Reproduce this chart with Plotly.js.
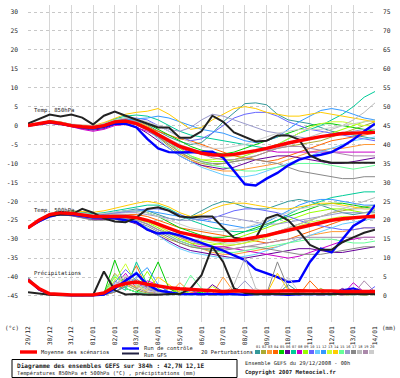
<!DOCTYPE html>
<html><head><meta charset="utf-8">
<script src="https://cdn.plot.ly/plotly-3.0.1.min.js"></script>
<style>html,body{margin:0;padding:0;background:#fff}#c{width:400px;height:378px}</style>
</head><body><div id="c"></div>
<script>
const hours=[0,12,24,36,48,60,72,84,96,108,120,132,144,156,168,180,192,204,216,228,240,252,264,276,288,300,312,324,336,348,360,372,384];
const dayTicks=[0,24,48,72,96,120,144,168,192,216,240,264,288,312,336,360,384];
const dayLabels=['29/12','30/12','31/12','01/01','02/01','03/01','04/01','05/01','06/01','07/01','08/01','09/01','10/01','11/01','12/01','13/01','14/01'];
const tempTicks=[-45,-40,-35,-30,-25,-20,-15,-10,-5,0,5,10,15,20,25,30];
const tempLabels=['-45','-40','-35','-30','-25','-20','-15','-10','-5','0','5','10','15','20','25','30'];
const precipTicks=[0,5,10,15,20,25,30,35,40,45,50,55,60,65,70,75];
const memberNames=['01','02','03','04','05','06','07','08','09','10','11','12','13','14','15','16','17','18','19','20'];
const memberColors=['#339999','#aaaa33','#ff9933','#ff6600','#00cc00','#660099','#00cc99','#cc00cc','#99ff00','#6666ff','#66ccff','#3399ff','#ccff33','#ffcc00','#66ff99','#9999cc','#888888','#bbbbbb','#aa88aa','#cccccc'];

// Temperature 850 hPa (°C)
const t850Mean=[0,0.5,1,0.6,0,-0.3,-0.5,0,1,1.2,0.5,-0.8,-2.5,-4,-5.5,-6.5,-7.3,-7.7,-7.8,-7.6,-7.2,-6.6,-6,-5.2,-4.6,-4,-3.4,-2.9,-2.5,-2.1,-2,-1.8,-1.8];
const t850Control=[0,0.3,0.8,0.5,0,-0.5,-0.8,-0.3,0.5,0.5,-0.5,-3.5,-6,-7,-7.1,-7,-6.8,-6.9,-8.5,-12,-15.5,-15.8,-14,-12.5,-10.5,-9,-8.2,-7.7,-7,-5.5,-3.7,-1.5,0.5];
const t850Gfs=[0.5,1.8,2.9,2.4,2.9,2.1,0.3,2.6,3.7,2.6,1.5,0.5,-0.5,-0.5,-3.2,-3.2,-1.5,2.6,1,-1.8,-2.9,-4.2,-4,-2.6,-2.6,-3.7,-7.9,-9.2,-9.8,-9.8,-9.8,-9.8,-9.8];
const t850Members=[
[0,0.6,1.2,0.8,0.2,-0.2,-0.4,0.3,1.3,1.6,1.2,0.2,-1.5,-3,-4.2,-5,-4.5,-2,1,3.5,5.8,6,5.5,3,1.5,1,0.5,-0.5,-1.5,-2,-2.5,-3,-3.5],
[0,0.3,0.8,0.5,-0.2,-0.5,-0.8,-0.3,0.8,1,0.3,-1,-3,-5.5,-7.5,-9,-10,-10.5,-10,-9.5,-9,-8,-7,-6,-5.5,-5,-4.5,-4,-3,-2,-1,0,1],
[0,0.5,1.3,1,0.3,0,-0.3,0.2,1,1.5,1,0,-2,-4.5,-7,-9,-10.5,-11.5,-12,-12,-11.5,-11,-10.5,-10,-9,-8,-7,-6.5,-6,-6,-5.5,-5,-5],
[0,0.4,1,0.7,0,-0.4,-0.6,0,1.2,1.4,0.6,-0.5,-1.5,-2.5,-3.5,-4,-5,-6,-7,-8,-8.5,-9,-9.5,-9,-8,-7,-6,-5,-4,-3.5,-3,-2.5,-2],
[0,0.7,1.3,0.9,0.3,0,-0.2,0.4,1.5,2,1.5,0.5,-1,-2.5,-4,-5.5,-6.5,-7,-7.5,-7,-6,-5,-4,-3,-2,-1,0,0.5,0.5,0,-0.5,-1,-1.5],
[0,0.2,0.6,0.3,-0.3,-0.8,-1.2,-0.8,0.3,0.5,-0.3,-2,-4,-6,-8,-9.5,-10.5,-11,-11.5,-11,-10,-9,-8.5,-8,-8,-8.5,-9,-9.5,-10,-10,-9.5,-9,-8.5],
[0,0.6,1.1,0.7,0.1,-0.1,-0.2,0.5,1.8,2.5,2.8,2.5,1.5,0,-1.5,-2.5,-3,-3.5,-4,-4.5,-5,-5.5,-6,-5,-3.5,-2,-1,0,1.5,3,5,7.5,9],
[0,0.4,0.9,0.4,-0.4,-1,-1.5,-1,0,0.3,-0.5,-1.5,-3,-4.5,-6,-7,-7.5,-8,-8,-7.5,-7,-6.5,-6.5,-7,-7,-7,-7,-7,-7,-7,-7,-7,-7],
[0,0.5,1,0.6,0,-0.3,-0.6,-0.2,0.8,1.2,0.8,-0.3,-2,-4,-6,-8,-9,-9.5,-9.5,-9,-8,-7,-6,-5,-4.5,-4,-3.5,-3,-2,-1,0,1,1.5],
[0,0.5,1,0.7,0.1,-0.2,-0.5,0.2,1.2,1.8,2,1.5,0,-1.5,-3,-4,-3.5,-2,0,2,3,3.5,3.5,2.5,1,0,-1,-1.5,-2,-2.5,-3,-3.5,-4],
[0,0.3,0.9,0.5,-0.1,-0.5,-0.7,-0.1,1,1.3,0.5,-1,-3.5,-6,-8,-9.5,-11,-12,-13,-13.5,-13.5,-13,-12,-11,-10,-9,-8,-7,-6,-5,-4,-3.5,-3],
[0,0.5,1.1,0.7,0.2,-0.2,-0.4,0.2,1.1,1.5,1.8,2,2.5,2,1,0,-1,-1.5,-2,-3,-4,-4.5,-4,-3,-1,1,2.5,4,4.5,4,3,2,1.5],
[0,0.4,1,0.6,0,-0.4,-0.7,-0.2,0.8,1.2,0.6,-0.5,-2.5,-5,-7,-8.5,-9,-9,-8.5,-8,-7.5,-7,-6,-5,-3.5,-2,-0.5,0.5,1,1,0.5,0,0],
[0,0.6,1.2,0.8,0.3,0.1,0,0.8,2,3,3.5,3.8,4.5,3,1,-1,-0.5,1.5,3,4.5,5,4.5,3.5,3,2.5,2.5,3,3.5,3,2.5,2,1.5,1],
[0,0.4,0.9,0.5,-0.1,-0.4,-0.6,0,1,1.3,0.8,-0.5,-2.5,-4.5,-6.5,-8,-9.5,-10.5,-11,-11.5,-12,-12,-11.5,-11,-10.5,-10,-10,-10,-10.5,-11,-11.5,-11,-10.5],
[0,0.5,1,0.7,0.1,-0.2,-0.5,0.1,1.1,1.5,1.2,0.5,0,-1,-1.5,-0.5,1.5,3,2.5,1.5,0.5,-0.5,-1.5,-2,-2.5,-3,-3.5,-3,-2.5,-2,-1.5,-1,-1],
[0,0.3,0.7,0.3,-0.3,-0.7,-1,-0.5,0.5,0.8,0.2,-1.2,-3,-5,-7,-8.5,-9.5,-10,-10,-9.5,-9,-9,-9.5,-10,-11,-12,-12.5,-13,-13.5,-14,-14,-13.5,-13.5],
[0,0.5,1,0.6,0,-0.3,-0.5,0.1,1,1.3,0.6,-0.6,-2,-3.5,-5,-6,-7,-7.5,-8,-8,-7.5,-7,-6.5,-6,-5,-4,-3,-2,-1,0,1.5,3.5,6],
[0,0.4,0.8,0.4,-0.2,-0.6,-0.9,-0.4,0.6,0.9,0.2,-1,-2.5,-4,-5.5,-6.5,-7.5,-8.5,-9,-9,-8.5,-8,-7,-6,-5.5,-5.5,-6,-6.5,-7,-7.5,-8,-8,-8],
[0,0.6,1.2,0.9,0.4,0.2,0,0.5,1.5,2,1.8,1,0,-1.5,-3,-4.5,-5.5,-6,-6,-5.5,-5,-4,-3,-2,-1.5,-1,-1,-1,-0.5,0,0.5,1,1.5]];

// Temperature 500 hPa (°C)
const t500Mean=[-27,-25,-23.5,-23,-23.2,-23.6,-24,-24,-24,-24,-24.3,-25,-26,-27,-28.2,-28.8,-29.5,-30,-30.3,-30.3,-30,-29.6,-29,-28.3,-27.6,-27,-26.3,-25.6,-25,-24.6,-24.3,-24.1,-24];
const t500Control=[-27,-25.3,-24,-23.3,-23.5,-24,-24.3,-24.3,-24.5,-25,-25.5,-27.5,-28.5,-28.3,-29,-30,-31,-32,-33,-34.3,-35.5,-38,-39,-40,-41.3,-41,-36,-32.5,-33.5,-30,-26.5,-24.8,-21];
const t500Gfs=[-27,-25,-23.8,-23.5,-23.5,-22,-23,-24.5,-25.3,-25.5,-24.3,-22,-21.6,-22.5,-24,-24.3,-24,-24,-27,-29.6,-30.1,-29.7,-24.5,-23.5,-25,-28,-31.5,-32.8,-32.8,-30.8,-29.5,-28.3,-27.5];
const t500Members=[
[-27,-25.2,-23.5,-22.8,-22.5,-22.8,-23.3,-23.5,-23,-22.5,-22,-22.5,-23.5,-24.5,-25,-24,-22.5,-21,-20,-20.5,-21.5,-22,-22,-21,-20,-19.5,-20,-21,-22,-23,-23.5,-23,-22.5],
[-27,-25,-23.8,-23.3,-23.5,-24,-24.5,-24.3,-24,-24.5,-25.5,-27,-28.5,-30,-31,-32,-32.5,-32.5,-32,-31.5,-31,-30,-29,-28,-27,-26,-25,-24,-23,-22.5,-22,-21.5,-21],
[-27,-24.8,-23.2,-22.8,-23,-23.5,-24,-24,-23.5,-23.5,-24,-25,-26.5,-28,-29.5,-31,-32.5,-33.5,-34,-34,-33.5,-33,-32.5,-32,-31,-30,-29,-28.5,-28,-28,-27.5,-27,-27],
[-27,-25.3,-23.7,-23.2,-23.3,-23.8,-24.2,-24,-23.7,-23.5,-23.5,-24,-25,-26,-27,-27.5,-28,-28.5,-29,-29.5,-30,-30.5,-31,-30.5,-30,-29,-28,-27,-26,-25,-24.5,-24,-23.5],
[-27,-24.9,-23.3,-22.7,-22.8,-23.2,-23.6,-23.5,-23,-22.5,-22.5,-23,-24,-25.5,-27,-28,-29,-29.5,-29.5,-29,-28,-27,-26,-25,-24,-23,-22,-21,-20.5,-20.5,-21,-21.5,-22],
[-27,-25.4,-24,-23.6,-23.8,-24.3,-24.8,-24.8,-24.5,-25,-26,-27.5,-29,-30.5,-32,-33,-33.5,-34,-34.5,-35,-35,-34.5,-34,-33.5,-33,-32.5,-32.5,-33,-33.5,-33.5,-33,-32.5,-32],
[-27,-25,-23.4,-22.8,-22.8,-23,-23.3,-23,-22.5,-22,-21.5,-21,-21,-22,-23.5,-25,-26,-27,-27.5,-28,-28,-27.5,-26.5,-25,-23.5,-22,-21,-20,-19,-18.5,-18,-17.5,-17.5],
[-27,-25.2,-23.8,-23.5,-23.7,-24.2,-24.7,-24.6,-24.3,-24.5,-25,-26,-27.5,-29,-30.5,-31.5,-32,-32,-32,-32.5,-33,-33.5,-34,-34.5,-35,-34.5,-33.5,-32.5,-31.5,-30.5,-30,-29.5,-29.5],
[-27,-25,-23.6,-23,-23.1,-23.5,-24,-24,-23.8,-24,-24.5,-25.5,-27,-28.5,-30,-31,-31.5,-31.5,-31,-30,-29,-28,-27,-26,-25,-24,-23,-22.5,-22,-22,-22.5,-23,-23],
[-27,-25.1,-23.5,-22.9,-23,-23.3,-23.7,-23.5,-23,-22.8,-22.5,-22,-22,-22.5,-23.5,-24.5,-25,-24.5,-23.5,-22.5,-22,-22,-22.5,-23,-24,-25,-26,-26.5,-27,-27.5,-27.5,-27,-27],
[-27,-25.2,-23.9,-23.4,-23.6,-24.1,-24.6,-24.5,-24.2,-24.5,-25.5,-27,-29,-31,-32.5,-33.5,-34,-34.5,-35,-35,-34.5,-34,-33,-32,-31,-30,-29,-28,-27,-26,-25.5,-25,-24.5],
[-27,-24.9,-23.3,-22.8,-22.9,-23.3,-23.6,-23.3,-22.8,-22.5,-22.5,-22.5,-23,-23.5,-24,-24.5,-25,-25.5,-26,-26.5,-27,-26.5,-25.5,-24,-22.5,-21,-20,-19.5,-19.5,-20,-20.5,-21,-21],
[-27,-25,-23.5,-23,-23.2,-23.7,-24.2,-24.2,-24,-24.2,-24.8,-25.5,-26.5,-28,-29,-30,-30.5,-31,-31.5,-31.5,-31,-30.5,-29.5,-28.5,-27.5,-26.5,-25.5,-25,-24.5,-24,-24,-24,-24],
[-27,-25.3,-23.6,-22.9,-22.6,-22.7,-22.9,-22.5,-21.8,-21,-20.5,-20,-20.5,-21.5,-23,-24,-23.5,-22,-21,-20.5,-20.5,-21,-21.5,-22,-22,-21.5,-21,-20.5,-20.5,-21,-21.5,-22,-22],
[-27,-25.1,-23.7,-23.3,-23.5,-24,-24.5,-24.4,-24.2,-24.4,-25,-26,-27.5,-29,-30.5,-31.5,-32.5,-33,-33.5,-33.5,-33,-32.5,-32,-31.5,-31,-30.5,-30,-30,-30,-30.5,-31,-31,-30.5],
[-27,-25,-23.4,-22.9,-23,-23.4,-23.8,-23.6,-23.2,-23,-23,-23.5,-24,-24.5,-25,-25,-24.5,-24,-24,-24.5,-25,-25.5,-26,-26,-25.5,-25,-24.5,-24,-23.5,-23,-23,-23,-23],
[-27,-25.3,-24,-23.6,-23.8,-24.4,-25,-25,-24.8,-25,-25.5,-26.5,-28,-29.5,-31,-32,-32.5,-33,-33,-32.5,-32,-32,-32.5,-33,-33.5,-34,-34,-34,-33.5,-33,-32.5,-32,-32],
[-27,-25,-23.5,-23,-23.2,-23.6,-24,-23.8,-23.5,-23.5,-24,-25,-26,-27,-28,-29,-30,-30.5,-31,-31,-30.5,-30,-29,-28,-27,-26,-25,-24,-23,-22,-21,-20,-19],
[-27,-25.2,-23.8,-23.4,-23.6,-24,-24.4,-24.3,-24,-24.3,-25,-26,-27.5,-28.5,-29.5,-30.5,-31.5,-32,-32.5,-32.5,-32,-31.5,-31,-30.5,-30,-29.5,-29.5,-29.5,-29.5,-29.5,-29.5,-29.5,-29.5],
[-27,-24.8,-23.2,-22.7,-22.8,-23.2,-23.5,-23.2,-22.8,-22.5,-22.5,-23,-24,-25,-26,-27,-27.5,-28,-28,-27.5,-27,-26,-25,-24,-23,-22,-21.5,-21,-21,-21.5,-22,-22,-22]];

// Precipitation (mm)
const prMean=[4.2,2,0.6,0.4,0.3,0.3,0.3,0.8,2.5,3.3,3.7,3.1,2.6,2.2,1.9,1.7,1.4,1.3,1.2,1.3,1.4,1.2,1.3,1.4,1.3,1.4,1.3,1.4,1.3,1.2,1.3,1.2,1.2];
const prControl=[4.3,1.8,0.5,0.3,0.2,0.2,0.2,0.4,2,4,6,3,1.5,1,0.5,0.5,0.5,0.5,0.5,0.5,0.3,0.5,0.5,0.5,0.3,0.5,0.5,0.5,0.5,1.5,2,1,0.5];
const prGfs=[1,0.6,0.3,0.2,0.2,0.2,0.2,6.5,1.5,0.4,0.5,0.3,0.3,0.5,0.5,2,5.5,13,9,2,0.8,0.5,0.5,0.5,0.5,0.5,0.5,0.5,0.5,0.5,0.5,0.5,0.5];
const prMembers=[
[4.5,2,0.5,0.3,0.2,0.2,0.2,0.5,4,2,1,0.5,0.8,0.5,0.3,1.5,0.5,0.3,0.3,0.5,1,0.5,0.3,0.5,3,1,0.5,0.3,0.5,1,0.5,0.3,0.5],
[4,1.8,0.4,0.2,0.2,0.1,0.2,0.8,6,3,1.5,0.8,0.5,2,1,0.5,0.3,0.5,0.5,0.3,0.5,1.5,0.5,0.3,0.3,0.5,0.3,2,0.5,0.3,0.3,0.5,0.3],
[5,2.2,0.6,0.3,0.2,0.2,0.2,0.4,2,5,3,1,0.8,0.5,3.5,1,0.5,0.5,5,1,0.5,0.3,0.5,0.3,0.5,0.8,0.5,0.3,0.5,0.5,0.3,0.5,0.5],
[4.2,1.5,0.4,0.2,0.1,0.1,0.2,0.3,1,3,8,2,1,0.5,0.5,0.8,0.5,0.3,0.5,0.5,0.3,0.5,0.3,0.5,0.5,0.3,4,1,0.5,0.3,0.5,0.3,0.5],
[4.8,2,0.5,0.3,0.2,0.2,0.2,0.6,9.5,2,1,3,9,2,0.5,0.5,1,0.5,0.5,0.3,0.5,0.5,0.3,0.5,0.5,0.8,0.5,0.5,0.3,0.5,0.5,0.3,0.5],
[4.3,1.7,0.4,0.2,0.2,0.1,0.1,0.3,1.5,4.5,6,2,0.5,0.3,0.5,0.5,0.3,3,1,0.5,0.3,0.5,0.5,0.3,0.5,0.5,0.5,0.3,0.5,2,0.5,0.3,0.5],
[4.6,2.1,0.5,0.3,0.2,0.2,0.2,0.5,3,1.5,9,3,1,0.5,0.5,0.3,0.5,0.5,0.3,2,0.5,0.3,0.5,0.5,0.5,0.3,0.5,0.5,0.3,0.5,0.5,0.3,0.5],
[4.4,1.9,0.5,0.3,0.2,0.2,0.2,0.4,2.5,6,2,4,3,1,0.5,0.5,1.5,0.5,0.3,0.5,0.5,0.5,0.3,0.5,0.5,0.3,0.5,0.5,0.5,0.3,3.5,1,0.5],
[4.7,2,0.5,0.3,0.2,0.2,0.2,0.7,5,3.5,2,6.5,2,0.5,2,0.5,0.5,0.3,0.5,0.5,0.3,0.5,0.5,0.5,0.3,0.5,0.5,0.3,0.5,0.5,0.5,0.3,0.5],
[4.1,1.6,0.4,0.2,0.2,0.1,0.2,0.4,3.5,7,4,1.5,1,0.5,0.5,0.5,0.3,0.5,0.5,0.3,0.5,1,0.5,0.5,0.3,0.5,0.5,0.3,0.5,0.5,0.3,0.5,2.5],
[4.9,2.2,0.6,0.3,0.2,0.2,0.2,0.5,2,4,6.5,3,1.5,1,0.5,0.3,0.5,0.5,0.5,0.3,0.5,0.5,0.5,0.3,0.5,0.5,0.3,0.5,0.5,0.5,0.3,0.5,0.5],
[4.5,1.8,0.5,0.3,0.2,0.2,0.2,0.3,1.2,2.5,5,7.5,3,1,0.5,0.5,0.5,0.3,0.5,0.5,0.5,0.3,0.5,0.5,0.5,0.3,0.5,0.5,0.5,0.3,0.5,0.5,0.3],
[4.3,1.8,0.5,0.3,0.2,0.2,0.2,0.5,4,8.5,3,1,0.5,0.5,0.5,0.3,0.5,2.5,1,0.5,0.3,0.5,0.5,0.5,0.3,0.5,0.5,0.5,0.3,0.5,0.5,0.5,0.3],
[4.6,2,0.5,0.3,0.2,0.2,0.2,0.4,2,3,2.5,1.5,5,3,1,0.5,0.5,0.3,0.5,0.5,0.5,0.3,0.5,6,1.5,0.5,0.5,0.3,0.5,0.5,0.5,0.3,0.5],
[4.2,1.7,0.4,0.2,0.2,0.1,0.2,0.6,5.5,2,1,0.5,0.5,0.3,0.5,5.5,2,0.5,0.3,0.5,0.5,0.5,0.3,0.5,0.5,0.5,0.3,0.5,0.5,0.5,0.3,0.5,0.5],
[4.8,2.1,0.6,0.3,0.2,0.2,0.2,0.4,1.5,5,4,2,1,0.5,0.5,0.5,0.3,0.5,0.5,1,4,1,0.5,0.3,0.5,0.5,0.5,0.3,0.5,0.5,0.5,0.3,0.5],
[4.4,1.9,0.5,0.3,0.2,0.2,0.2,0.3,1,2.5,4.5,2.5,1,0.5,0.5,0.5,0.3,0.5,0.5,0.5,0.3,0.5,0.5,9,2,0.5,0.5,0.3,0.5,0.5,0.5,0.3,0.5],
[4.5,2,0.5,0.3,0.2,0.2,0.2,0.5,3,4,3,2,1,0.5,0.5,0.5,0.5,0.3,0.5,3,10,2,0.5,0.5,0.3,0.5,0.5,0.5,0.3,0.5,0.5,0.5,0.3],
[4.7,2.1,0.5,0.3,0.2,0.2,0.2,0.4,2.5,3.5,2,1,0.5,0.5,0.3,0.5,0.5,0.5,0.3,0.5,0.5,0.5,0.3,0.5,0.5,0.5,0.3,0.5,0.5,0.3,0.5,4,1],
[4.3,1.8,0.5,0.3,0.2,0.2,0.2,0.5,3,5.5,2.5,1.5,0.8,0.5,0.5,0.3,0.5,0.5,0.5,0.3,0.5,2,0.5,0.5,5,1,0.5,0.3,0.5,0.5,0.3,0.5,0.5]];

// ---------- build ----------
const traces=[];
function line(y,color,width,axis){
  return {type:'scatter',mode:'lines',x:hours,y:y,yaxis:axis||'y',
    line:{color:color,width:width},hoverinfo:'skip'};
}
for(let i=0;i<20;i++){
  traces.push(line(prMembers[i],memberColors[i],1,'y2'));
  traces.push(line(t500Members[i],memberColors[i],1));
  traces.push(line(t850Members[i],memberColors[i],1));
}
traces.push(line(prControl,'#0000ff',2.4,'y2'));
traces.push(line(t500Control,'#0000ff',2.4));
traces.push(line(t850Control,'#0000ff',2.4));
traces.push(line(prGfs,'#222222',2,'y2'));
traces.push(line(t500Gfs,'#222222',2));
traces.push(line(t850Gfs,'#222222',2));
traces.push(line(prMean,'#ff0000',3.4,'y2'));
traces.push(line(t500Mean,'#ff0000',3.4));
traces.push(line(t850Mean,'#ff0000',3.4));

// pixel -> paper helpers for decorations outside the plot
const L=28,R=25,T=5,B=56,W=400,H=378;
const PW=W-L-R, PH=H-T-B;
const px=x=>(x-L)/PW, py=y=>(H-B-y)/PH;
const MONO='DejaVu Sans Mono';
const ann=[], shp=[];
function txt(x,y,s,size,opts){
  ann.push(Object.assign({xref:'paper',yref:'paper',x:px(x),y:py(y),text:s,showarrow:false,
    xanchor:'left',yanchor:'middle',font:{family:MONO,size:size,color:'#222'}},opts||{}));
}
function seg(x0,x1,y,color,w){
  shp.push({type:'line',xref:'paper',yref:'paper',x0:px(x0),x1:px(x1),y0:py(y),y1:py(y),line:{color:color,width:w}});
}
// in-plot labels
ann.push({xref:'x',yref:'y',x:4,y:4,text:'Temp. 850hPa',showarrow:false,xanchor:'left',yanchor:'middle',font:{family:MONO,size:5.6,color:'#222'}});
ann.push({xref:'x',yref:'y',x:4,y:-22.4,text:'Temp. 500hPa',showarrow:false,xanchor:'left',yanchor:'middle',font:{family:MONO,size:5.6,color:'#222'}});
ann.push({xref:'x',yref:'y',x:4,y:-39,text:'Précipitations',showarrow:false,xanchor:'left',yanchor:'middle',font:{family:MONO,size:5.6,color:'#222'}});
// axis units
txt(12,328,'(°c)',5.8,{xanchor:'center'});
txt(389,328,'(mm)',5.8,{xanchor:'center'});
// legend
seg(20,37,352,'#ff0000',3.4); txt(39,352,'Moyenne des scénarios',5.4);
seg(122,139,348.5,'#0000ff',2.4); txt(142,348,'Run de contrôle',5.4);
seg(122,139,353.5,'#222244',2); txt(142,355,'Run GFS',5.4);
txt(199,352,'20 Perturbations',5.4);
for(let i=0;i<20;i++){
  const x0=255+i*6;
  shp.push({type:'rect',xref:'paper',yref:'paper',x0:px(x0),x1:px(x0+5),y0:py(354),y1:py(350),
    fillcolor:memberColors[i],line:{width:0}});
  txt(x0+2.5,346.5,memberNames[i],3.6,{xanchor:'center'});
}
// info box
shp.push({type:'rect',xref:'paper',yref:'paper',x0:px(12),x1:px(237),y0:py(359.5),y1:py(377.5),
  fillcolor:'rgba(0,0,0,0)',line:{color:'#000',width:1}});
txt(15,365.5,'<b>Diagramme des ensembles GEFS sur 384h : 42,7N 12,1E</b>',6.1);
txt(15,373.5,'Températures 850hPa et 500hPa (°C) , précipitations (mm)',5.3);
txt(243,363,'Ensemble GEFS du 29/12/2008 - 00h',5.3);
txt(243,373,'<b>Copyright 2007 Meteociel.fr</b>',5.6);

const layout={
  width:W,height:H,margin:{l:L,r:R,t:T,b:B,pad:0},
  paper_bgcolor:'#ffffff',plot_bgcolor:'#ffffff',showlegend:false,
  font:{family:MONO,size:6,color:'#222'},
  xaxis:{range:[0,384],tickmode:'array',tickvals:dayTicks,ticktext:dayLabels,tickangle:-90,
    showgrid:true,gridcolor:'#d6d6d6',gridwidth:1,zeroline:false,showline:false,ticks:'',
    tickfont:{family:MONO,size:6.3,color:'#222'},ticklabelstandoff:2},
  yaxis:{range:[-51.87,31.85],tickmode:'array',tickvals:tempTicks,ticktext:tempLabels,
    showgrid:true,gridcolor:'#c8c8c8',griddash:'dot',gridwidth:1,zeroline:false,showline:false,ticks:'',
    tickfont:{family:MONO,size:6.3,color:'#222'},ticklabelstandoff:9},
  yaxis2:{overlaying:'y',side:'right',range:[-6.87,76.85],tickmode:'array',tickvals:precipTicks,
    showgrid:false,zeroline:false,showline:false,ticks:'',
    tickfont:{family:MONO,size:6.3,color:'#222'},ticklabelstandoff:7},
  annotations:ann,shapes:shp
};
Plotly.newPlot('c',traces,layout,{staticPlot:true,displayModeBar:false});

// sanity check of series lengths
const all=[t850Mean,t850Control,t850Gfs,t500Mean,t500Control,t500Gfs,prMean,prControl,prGfs].concat(t850Members,t500Members,prMembers);
all.forEach((a,i)=>{ if(a.length!==hours.length) console.error('series '+i+' has length '+a.length); });
</script></body></html>
